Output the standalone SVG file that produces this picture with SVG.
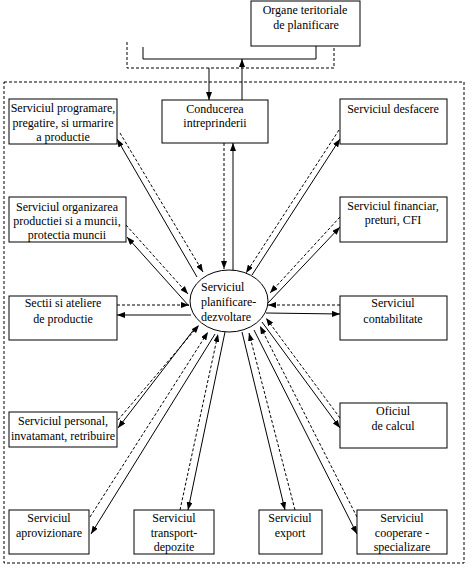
<svg xmlns="http://www.w3.org/2000/svg" width="474" height="573" viewBox="0 0 474 573">
<style>
.box{fill:#fff;stroke:#000;stroke-width:1}
text{font-family:'Liberation Serif','Times New Roman',serif;font-size:12px;fill:#000}
.t{text-anchor:middle}
.s{fill:none;stroke:#000;stroke-width:1}
.d{fill:none;stroke:#000;stroke-width:1;stroke-dasharray:3,2}
.sa{fill:none;stroke:#000;stroke-width:1;marker-end:url(#ah)}
.da{fill:none;stroke:#000;stroke-width:1;stroke-dasharray:3,2;marker-end:url(#ah)}
</style>
<defs>
<marker id="ah" markerUnits="userSpaceOnUse" markerWidth="8" markerHeight="6" refX="8" refY="3" orient="auto">
<path d="M0,0 L8,3 L0,6 z" fill="#000"/>
</marker>
</defs>
<rect width="474" height="573" fill="#fff"/>
<rect x="4" y="82" width="460" height="481" class="d"/>
<g id="connectors">
<polyline class="s" points="143,47 143,59 316,59 316,46"/>
<polyline class="d" points="127,42 127,68 334,68 334,48"/>
<line class="sa" x1="209" y1="68" x2="209" y2="100"/>
<line class="sa" x1="242" y1="100" x2="242" y2="59"/>
<line class="da" x1="224" y1="143" x2="224" y2="269"/>
<line class="sa" x1="233" y1="270" x2="233" y2="143"/>
<line class="da" x1="120" y1="133" x2="203" y2="272"/>
<line class="sa" x1="197" y1="277" x2="117" y2="139"/>
<line class="da" x1="339" y1="130" x2="246" y2="273"/>
<line class="sa" x1="252" y1="275" x2="340" y2="139"/>
<line class="da" x1="126" y1="225" x2="188" y2="294"/>
<line class="sa" x1="189" y1="306" x2="127" y2="237"/>
<line class="da" x1="340" y1="217" x2="270" y2="293"/>
<line class="sa" x1="268" y1="303" x2="340" y2="227"/>
<line class="da" x1="117" y1="305" x2="189" y2="305"/>
<line class="sa" x1="191" y1="315" x2="117" y2="315"/>
<line class="da" x1="340" y1="305" x2="268" y2="305"/>
<line class="sa" x1="266" y1="313" x2="340" y2="314"/>
<line class="da" x1="118" y1="420" x2="199" y2="325"/>
<line class="sa" x1="195" y1="328" x2="118" y2="428"/>
<line class="da" x1="340" y1="418" x2="266" y2="318"/>
<line class="sa" x1="262" y1="322" x2="340" y2="428"/>
<line class="da" x1="90" y1="517" x2="208" y2="332"/>
<line class="sa" x1="215" y1="334" x2="91" y2="534"/>
<line class="da" x1="180" y1="510" x2="218" y2="334"/>
<line class="sa" x1="225" y1="332" x2="188" y2="510"/>
<line class="sa" x1="242" y1="332" x2="285" y2="510"/>
<line class="da" x1="295" y1="510" x2="249" y2="333"/>
<line class="sa" x1="254" y1="330" x2="357" y2="534"/>
<line class="da" x1="357" y1="517" x2="260" y2="326"/>
</g>
<g id="organe">
<rect class="box" x="251" y="1" width="109" height="45"/>
<text class="t" x="305" y="14">Organe teritoriale</text>
<text class="t" x="306" y="29">de planificare</text>
</g>
<g id="conducerea">
<rect class="box" x="162" y="100" width="106" height="43"/>
<text class="t" x="215" y="113">Conducerea</text>
<text class="t" x="215" y="127">intreprinderii</text>
</g>
<g id="programare">
<rect class="box" x="9" y="99" width="108" height="45"/>
<text class="t" x="63" y="112">Serviciul programare,</text>
<text class="t" x="63" y="127">pregatire, si urmarire</text>
<text class="t" x="63" y="141">a productie</text>
</g>
<g id="desfacere">
<rect class="box" x="340" y="99" width="107" height="45"/>
<text class="t" x="393" y="113">Serviciul desfacere</text>
</g>
<g id="organizarea">
<rect class="box" x="9" y="197" width="117" height="45"/>
<text class="t" x="67" y="211">Serviciul organizarea</text>
<text class="t" x="67" y="225">productiei si a muncii,</text>
<text class="t" x="67" y="239">protectia muncii</text>
</g>
<g id="financiar">
<rect class="box" x="340" y="197" width="107" height="45"/>
<text class="t" x="393" y="210">Serviciul financiar,</text>
<text class="t" x="393" y="224">preturi, CFI</text>
</g>
<g id="sectii">
<rect class="box" x="9" y="296" width="108" height="44"/>
<text class="t" x="63" y="307">Sectii si ateliere</text>
<text class="t" x="63" y="323">de productie</text>
</g>
<g id="contabilitate">
<rect class="box" x="340" y="296" width="107" height="44"/>
<text class="t" x="393" y="307">Serviciul</text>
<text class="t" x="393" y="323">contabilitate</text>
</g>
<g id="personal">
<rect class="box" x="9" y="412" width="108" height="35"/>
<text class="t" x="63" y="425">Serviciul personal,</text>
<text class="t" x="63" y="440">invatamant, retribuire</text>
</g>
<g id="oficiul">
<rect class="box" x="340" y="403" width="107" height="45"/>
<text class="t" x="393" y="415">Oficiul</text>
<text class="t" x="393" y="430">de calcul</text>
</g>
<g id="aprovizionare">
<rect class="box" x="9" y="510" width="80" height="44"/>
<text class="t" x="49" y="522">Serviciul</text>
<text class="t" x="49" y="537">aprovizionare</text>
</g>
<g id="transport">
<rect class="box" x="134" y="510" width="80" height="44"/>
<text class="t" x="174" y="522">Serviciul</text>
<text class="t" x="174" y="537">transport-</text>
<text class="t" x="174" y="551">depozite</text>
</g>
<g id="export">
<rect class="box" x="259" y="510" width="63" height="44"/>
<text class="t" x="290" y="522">Serviciul</text>
<text class="t" x="290" y="537">export</text>
</g>
<g id="cooperare">
<rect class="box" x="357" y="510" width="90" height="44"/>
<text class="t" x="402" y="522">Serviciul</text>
<text class="t" x="402" y="537">cooperare -</text>
<text class="t" x="402" y="551">specializare</text>
</g>
<g id="planificare">
<ellipse class="box" cx="229" cy="301" rx="39" ry="31"/>
<text x="201" y="291">Serviciul</text>
<text x="201" y="306">planificare-</text>
<text x="201" y="321">dezvoltare</text>
</g>
</svg>
